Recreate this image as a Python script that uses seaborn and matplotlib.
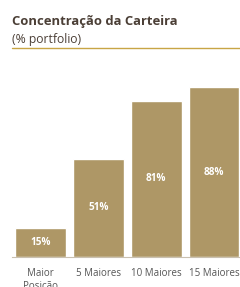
import matplotlib
matplotlib.use("Agg")
import matplotlib.pyplot as plt
import pandas as pd
import seaborn as sns

# dados
categorias = ["Maior\nPosição", "5 Maiores", "10 Maiores", "15 Maiores"]
valores = [15, 51, 81, 88]

BAR = "#ae9766"
TXT = "#4b3f36"

sns.set_theme(style="white")
plt.rcParams["font.family"] = ["Open Sans", "DejaVu Sans"]

df = pd.DataFrame({"cat": categorias, "val": valores})

fig = plt.figure(figsize=(2.4, 2.87), dpi=100)
ax = fig.add_axes([12 / 240, 30 / 287, 228 / 240, 193 / 287])

sns.barplot(data=df, x="cat", y="val", color=BAR, saturation=1, width=0.88, ax=ax)
ax.set_xlim(-0.5, 3.45)
ax.set_ylim(0, 100)

for p, v in zip(ax.patches, valores):
    ax.text(p.get_x() + p.get_width() / 2, v / 2, f"{v}%", ha="center",
            va="center", color="white", fontsize=7.2, fontweight="bold")

ax.set_xlabel("")
ax.set_ylabel("")
ax.set_yticks([])
for s in ["top", "right", "left"]:
    ax.spines[s].set_visible(False)
ax.spines["bottom"].set_color("#c9c0b0")
ax.spines["bottom"].set_linewidth(0.8)
ax.tick_params(axis="x", length=0, pad=8, labelsize=7.0, labelcolor="#555555")

# titulo
fig.text(12 / 240, 1 - 25 / 287, "Concentração da Carteira", fontsize=9.4,
         fontweight="bold", color=TXT, ha="left", va="baseline")
fig.text(12 / 240, 1 - 42.5 / 287, "(% portfolio)", fontsize=8.7, color=TXT,
         ha="left", va="baseline")
fig.add_artist(plt.Line2D([12 / 240, 1], [1 - 48 / 287] * 2, color="#c8a545",
                          linewidth=1.0, transform=fig.transFigure))

fig.savefig("out.png", dpi=100)
